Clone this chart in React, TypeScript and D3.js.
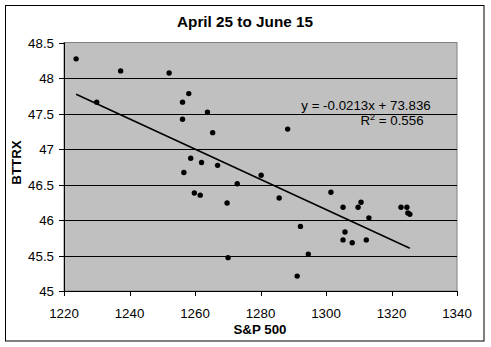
import React from "react";
import * as d3 from "d3";

const sp500: number[] = [
  1223.7, 1230.0, 1237.3, 1252.1, 1258.1, 1256.2, 1263.8, 1256.2, 1265.4, 1288.3,
  1258.7, 1262.0, 1266.9, 1256.6, 1272.9, 1280.2, 1259.8, 1261.6, 1269.8, 1285.7,
  1292.2, 1270.1, 1294.6, 1291.2, 1301.5, 1305.2, 1309.8, 1310.7, 1313.1, 1322.9,
  1324.7, 1325.0, 1325.6, 1305.8, 1305.2, 1308.0, 1312.3,
];
const bttrx: number[] = [
  48.27, 47.66, 48.1, 48.07, 47.78, 47.66, 47.52, 47.42, 47.23, 47.28,
  46.87, 46.81, 46.77, 46.67, 46.51, 46.63, 46.38, 46.35, 46.24, 46.31,
  45.91, 45.47, 45.52, 45.21, 46.39, 46.18, 46.18, 46.25, 46.03, 46.18,
  46.18, 46.1, 46.08, 45.83, 45.72, 45.68, 45.72,
];
const xTicks: number[] = [1220, 1240, 1260, 1280, 1300, 1320, 1340];
const yTicks: number[] = [45, 45.5, 46, 46.5, 47, 47.5, 48, 48.5];
const trendSlope = -0.0213;
const trendIntercept = 73.836;
const titleText = "April 25 to June 15";
const xLabel = "S&P 500";
const yLabel = "BTTRX";
const eqText = "y = -0.0213x + 73.836";

export default function App() {
  const W = 491, H = 347;
  const L = 64, R = 457, T = 42.5, B = 291;
  const x = d3.scaleLinear().domain([1220, 1340]).range([L, R]);
  const y = d3.scaleLinear().domain([45, 48.5]).range([B, T]);
  const xMin = d3.min(sp500)!;
  const xMax = d3.max(sp500)!;
  const line = d3.line<number>().x((v) => x(v)).y((v) => y(trendSlope * v + trendIntercept));
  const font = "Arial, 'Liberation Sans', sans-serif";
  const fs = 13.3;
  return (
    <svg width={W} height={H} style={{ position: "absolute", left: 0, top: 0 }} fontFamily={font}>
      <rect x={0} y={0} width={W} height={H} fill="white" />
      <rect x={5.5} y={5.5} width={478.5} height={335.5} fill="white" stroke="black" strokeWidth={1} />
      <text x={245} y={27} textAnchor="middle" fontSize={15.3} fontWeight="bold">{titleText}</text>
      <rect x={L} y={T} width={R - L} height={B - T} fill="#C0C0C0" stroke="#808080" strokeWidth={1} />
      {yTicks.filter((t) => t > 45 && t < 48.5).map((t) => (
        <line key={"g" + t} x1={L} x2={R} y1={Math.round(y(t)) + 0.5} y2={Math.round(y(t)) + 0.5} stroke="black" strokeWidth={1} />
      ))}
      <line x1={L + 0.5} x2={L + 0.5} y1={T} y2={B} stroke="black" />
      <line x1={L} x2={R} y1={B + 0.5} y2={B + 0.5} stroke="black" />
      {yTicks.map((t) => (
        <g key={"y" + t}>
          <line x1={L - 5} x2={L} y1={Math.round(y(t)) + 0.5} y2={Math.round(y(t)) + 0.5} stroke="black" />
          <text x={L - 10} y={y(t) + 5} textAnchor="end" fontSize={fs}>{String(t)}</text>
        </g>
      ))}
      {xTicks.map((t) => (
        <g key={"x" + t}>
          <line x1={Math.round(x(t)) + 0.5} x2={Math.round(x(t)) + 0.5} y1={B} y2={B + 5} stroke="black" />
          <text x={x(t)} y={317.5} textAnchor="middle" fontSize={fs}>{String(t)}</text>
        </g>
      ))}
      <path d={line([xMin, xMax]) || ""} stroke="black" strokeWidth={1.6} fill="none" />
      {sp500.map((v, i) => (
        <circle key={"p" + i} cx={x(v)} cy={y(bttrx[i])} r={2.7} fill="black" />
      ))}
      <text x={366} y={110} textAnchor="middle" fontSize={fs}>{eqText}</text>
      <text x={392} y={125} textAnchor="middle" fontSize={fs}>
        R<tspan dy={-5} fontSize={9}>2</tspan><tspan dy={5}> = 0.556</tspan>
      </text>
      <text x={260} y={334} textAnchor="middle" fontSize={13.3} fontWeight="bold">{xLabel}</text>
      <text transform={`translate(21,162.5) rotate(-90)`} textAnchor="middle" fontSize={13.3} fontWeight="bold">{yLabel}</text>
    </svg>
  );
}
